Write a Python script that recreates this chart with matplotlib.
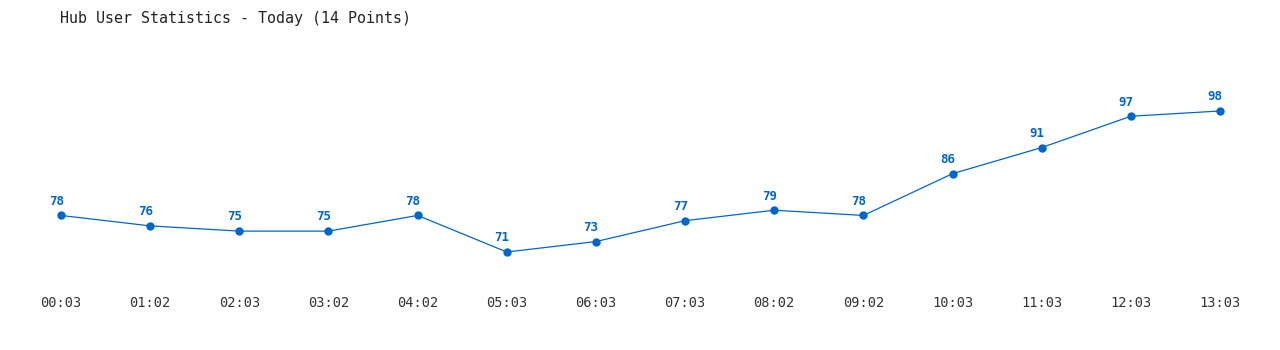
import matplotlib
matplotlib.use("Agg")
import matplotlib.pyplot as plt

# hourly user counts
times = ["00:03", "01:02", "02:03", "03:02", "04:02", "05:03", "06:03",
         "07:03", "08:02", "09:02", "10:03", "11:03", "12:03", "13:03"]
users = [78, 76, 75, 75, 78, 71, 73, 77, 79, 78, 86, 91, 97, 98]

blue = "#0066cc"
mono = "DejaVu Sans Mono"

fig = plt.figure(figsize=(12.8, 3.5), dpi=100)
ax = fig.add_axes([61 / 1280, 1 - 252 / 350, (1220 - 61) / 1280, (252 - 111) / 350])

x = list(range(len(users)))
ax.plot(x, users, color=blue, linewidth=0.9, marker="o", markersize=5,
        clip_on=False)
for xi, v in zip(x, users):
    ax.annotate(str(v), (xi, v), xytext=(-3.5, 5.5), textcoords="offset points",
                ha="center", va="bottom", color=blue, fontsize=9,
                fontweight="bold", family=mono)

ax.set_xlim(0, len(users) - 1)
ax.set_ylim(min(users), max(users))
ax.set_xticks(x)
ax.set_xticklabels(times, family=mono, fontsize=9.8, color="#333333")
ax.tick_params(axis="x", length=0, pad=32)
ax.set_yticks([])
for s in ax.spines.values():
    s.set_visible(False)

fig.text(60 / 1280, 1 - 18 / 350, "Hub User Statistics - Today (14 Points)",
         family=mono, fontsize=10.8, color="#222222", va="center", ha="left")

fig.savefig("out.png", dpi=100, facecolor="white")
